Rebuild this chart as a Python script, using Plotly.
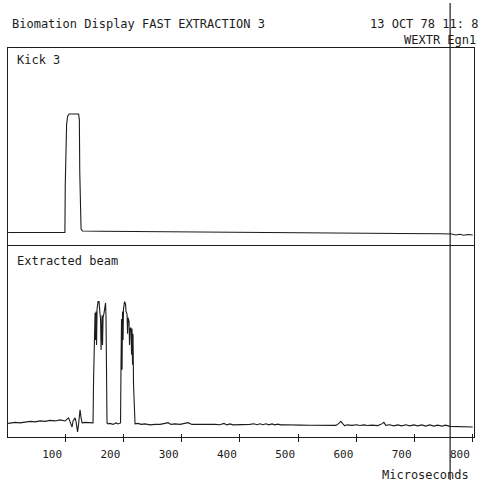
import plotly.graph_objects as go

# ---------------- data ----------------
# Top panel: "Kick 3" (time in microseconds, signal in arbitrary units)
kick_t = [2.2, 57.0, 99.7, 100.3, 102.6, 104.3, 106.9, 115.0, 123.2, 124.5, 125.2, 127.4,
          130.0, 160.0, 245.8, 331.6, 400.2, 503.1, 588.9, 674.7, 743.3, 763.8, 770.7,
          777.5, 784.4, 791.3, 799.8]
kick_v = [-0.004, -0.003, -0.004, 0.40, 0.91, 0.98, 1.00, 1.00, 1.00, 0.95, 0.51, 0.025,
          0.008, 0.006, 0.002, -0.003, -0.006, -0.008, -0.011, -0.013, -0.015, -0.017, -0.025,
          -0.019, -0.027, -0.021, -0.025]

# Bottom panel: "Extracted beam"
beam_t = [2.2, 14.2, 22.8, 31.4, 40.0, 48.5, 57.1, 65.7, 74.3, 82.9, 91.4, 100.0,
          103.4, 106.0, 108.6, 112.0, 113.7, 117.2, 118.9, 121.4, 123.2, 125.7, 127.5, 129.2,
          134.3, 142.9, 147.2,
          148.0, 148.9, 150.6, 151.5, 152.3, 153.2, 154.0, 154.9, 156.6, 158.3, 160.0, 160.9,
          161.8, 162.6, 163.5, 164.3, 165.2, 166.9, 168.6, 169.5, 170.3, 171.2, 172.0, 173.8,
          177.2, 182.3, 187.5, 190.9, 194.3,
          195.2, 196.1, 196.9, 197.8, 198.6, 199.5, 200.3, 202.1, 203.8, 204.6, 206.4, 207.2,
          208.1, 209.8, 210.6, 211.5, 213.2, 214.1, 214.9, 215.8, 216.6, 217.5, 219.2, 220.1,
          225.2, 230.4, 237.2, 245.8, 254.4, 262.9, 271.5, 276.7, 281.8, 288.7, 297.3, 305.8,
          311.0, 317.8, 324.7, 331.6, 340.2, 348.7, 357.3, 365.9, 372.7, 377.9, 383.0, 388.2,
          395.0, 400.2, 408.7, 417.3, 424.2, 429.3, 434.5, 439.6, 444.8, 449.9, 455.1, 460.2,
          465.4, 470.5, 477.4, 486.0, 503.1, 520.3, 537.4, 554.6, 564.9, 570.0, 573.5, 576.9,
          580.3, 583.7, 592.3, 600.9, 606.0, 612.9, 619.7, 626.6, 636.9, 643.7, 647.2, 650.6,
          657.5, 664.3, 671.2, 678.0, 684.9, 691.8, 698.6, 705.5, 712.4, 719.2, 726.1, 733.0,
          739.8, 746.7, 753.5, 760.4, 769.0, 777.5, 786.1, 794.7, 799.8]
beam_v = [-0.004, 0.004, 0.000, 0.008, 0.012, 0.008, 0.016, 0.012, 0.020, 0.016, 0.024, 0.016,
          0.033, 0.041, 0.008, -0.033, 0.016, 0.041, 0.008, -0.073, -0.008, 0.106, 0.041, 0.000,
          0.004, 0.000, 0.000,
          0.000, 0.35, 0.59, 0.89, 0.67, 0.90, 0.63, 0.92, 0.98, 0.98, 0.88, 0.84,
          0.59, 0.82, 0.87, 0.63, 0.85, 0.89, 0.95, 0.97, 0.84, 0.35, 0.000, -0.008,
          -0.004, -0.012, 0.000, -0.008, -0.004,
          0.000, 0.51, 0.84, 0.43, 0.90, 0.67, 0.92, 0.98, 0.96, 0.90, 0.88, 0.72,
          0.85, 0.82, 0.63, 0.76, 0.77, 0.55, 0.76, 0.47, 0.72, 0.31, 0.024, -0.008,
          -0.004, -0.012, -0.008, -0.016, -0.012, -0.012, -0.004, 0.002, -0.012, -0.008, -0.012, -0.004,
          0.002, -0.012, -0.012, -0.012, -0.008, -0.012, -0.012, -0.015, -0.004, -0.016, -0.008, -0.016,
          -0.016, -0.012, -0.016, -0.012, -0.007, -0.015, -0.007, -0.015, -0.007, -0.016, -0.008, -0.016,
          -0.010, -0.016, -0.015, -0.018, -0.018, -0.019, -0.019, -0.020, -0.020, -0.004, 0.012, -0.008,
          -0.024, -0.016, -0.020, -0.015, -0.021, -0.016, -0.021, -0.018, -0.022, -0.008, 0.004, -0.020,
          -0.015, -0.024, -0.016, -0.024, -0.015, -0.024, -0.016, -0.024, -0.016, -0.026, -0.016, -0.026,
          -0.018, -0.026, -0.018, -0.028, -0.028, -0.031, -0.028, -0.031, -0.033]

tick_values = [100, 200, 300, 400, 500, 600, 700, 800]
tick_labels = ["100", "200", "300", "400", "500", "600", "700", "800"]
cursor_us = 761

title_text = "Biomation Display FAST EXTRACTION 3"
date_text = "13 OCT 78 11: 8"
sub_text = "WEXTR Egn1"
top_label = "Kick 3"
bottom_label = "Extracted beam"
x_title = "Microseconds"

# ---------------- figure ----------------
W, H = 478, 484
INK = "#1c1c1c"
MONO = "DejaVu Sans Mono"

def px(x):
    return x / W

def py(y):
    return 1 - y / H

fig = go.Figure()
fig.add_trace(go.Scatter(x=kick_t, y=kick_v, mode="lines", xaxis="x2", yaxis="y2",
                         line=dict(color=INK, width=1.1), hoverinfo="skip", showlegend=False))
fig.add_trace(go.Scatter(x=beam_t, y=beam_v, mode="lines", xaxis="x", yaxis="y",
                         line=dict(color=INK, width=1.1), hoverinfo="skip", showlegend=False))

xdom = [px(8), px(474)]
xrange_ = [2, 802]
frame = dict(showline=True, mirror=True, linecolor=INK, linewidth=1,
             showgrid=False, zeroline=False)

fig.update_layout(
    width=W, height=H,
    margin=dict(l=0, r=0, t=0, b=0),
    paper_bgcolor="white", plot_bgcolor="white",
    showlegend=False,
    xaxis=dict(domain=xdom, range=xrange_, anchor="y", **frame,
               ticks="outside", ticklen=4, tickwidth=1, tickcolor=INK,
               tickvals=tick_values, ticktext=tick_labels,
               tickfont=dict(family=MONO, size=11, color=INK),
               ticklabelshift=-13, ticklabelstandoff=3),
    xaxis3=dict(overlaying="x", anchor="y", range=xrange_, domain=xdom,
                ticks="inside", ticklen=3, tickwidth=1, tickcolor=INK,
                tickvals=tick_values, showticklabels=False,
                showline=False, showgrid=False, zeroline=False),
    yaxis=dict(domain=[py(437), py(246)], range=[-0.114, 1.43], anchor="x", **frame,
               showticklabels=False, ticks=""),
    xaxis2=dict(domain=xdom, range=xrange_, anchor="y2", showline=True, mirror=False,
                linecolor=INK, linewidth=1, showgrid=False, zeroline=False,
                side="top", showticklabels=False, ticks=""),
    yaxis2=dict(domain=[py(245), py(48)], range=[-0.110, 1.559], anchor="x2", **frame,
                showticklabels=False, ticks=""),
)

# invisible trace to activate xaxis3
fig.add_trace(go.Scatter(x=[tick_values[0]], y=[0], xaxis="x3", yaxis="y",
                         mode="markers", marker=dict(opacity=0), hoverinfo="skip",
                         showlegend=False))

fig.add_shape(type="line", xref="x", yref="paper", x0=cursor_us, x1=cursor_us,
              y0=py(480), y1=py(3), line=dict(color=INK, width=1.2))

font = dict(family=MONO, size=12, color=INK)
ann = [
    (title_text, 10, 24, "left"),
    (date_text, 368, 24, "left"),
    (sub_text, 402, 40, "left"),
    (top_label, 15, 60, "left"),
    (bottom_label, 15, 261, "left"),
    (x_title, 471, 475, "right"),
]
for text, x, y, anchor in ann:
    fig.add_annotation(text=text, xref="paper", yref="paper", x=px(x), y=py(y),
                       xanchor=anchor, yanchor="middle", showarrow=False, font=font)

fig.write_html("out.html")
